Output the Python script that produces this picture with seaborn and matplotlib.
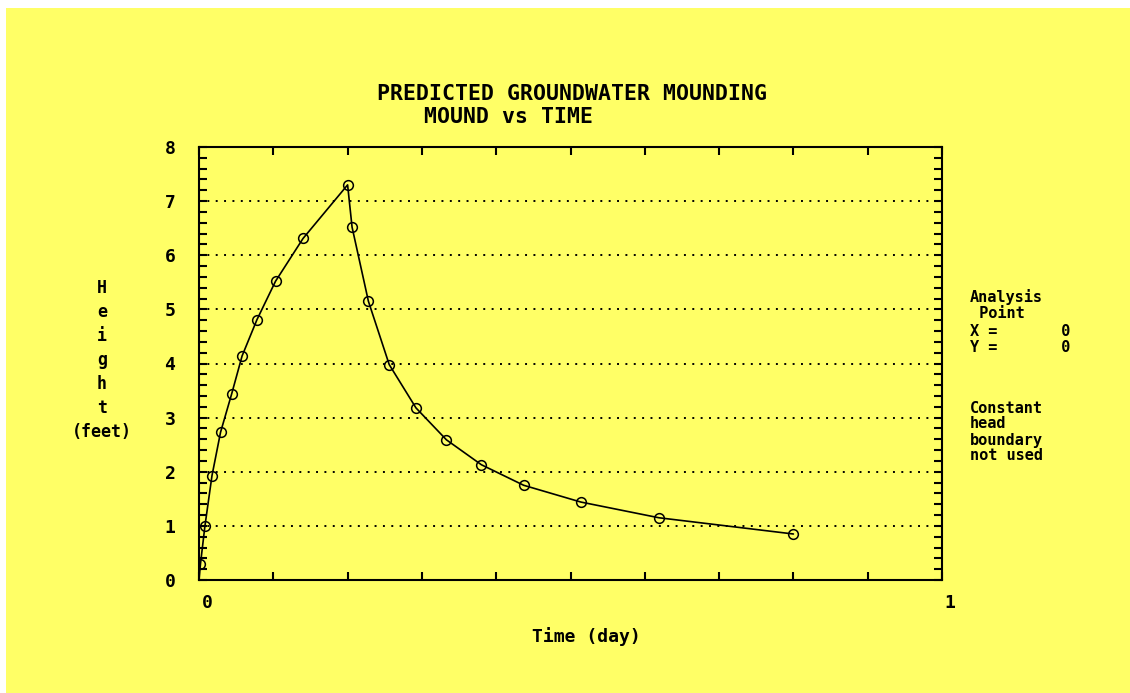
import numpy as np
import pandas as pd
import matplotlib
matplotlib.use("Agg")
import matplotlib.pyplot as plt
import seaborn as sns
from matplotlib.ticker import MultipleLocator
from matplotlib.transforms import ScaledTranslation
from matplotlib.patches import Rectangle

# ---- data ----
time_day = [0.0, 0.002, 0.008, 0.0175, 0.029, 0.044, 0.058, 0.078, 0.103, 0.140,
            0.200, 0.206, 0.228, 0.256, 0.292, 0.333, 0.380, 0.437, 0.514, 0.619, 0.800]
height_ft = [0.0, 0.30, 1.00, 1.93, 2.73, 3.44, 4.14, 4.81, 5.52, 6.31,
             7.30, 6.52, 5.15, 3.98, 3.18, 2.59, 2.13, 1.75, 1.44, 1.15, 0.85]
x_tick_values = [0, 1]
x_tick_labels = ["0", "1"]
y_tick_values = [0, 1, 2, 3, 4, 5, 6, 7, 8]
y_tick_labels = ["0", "1", "2", "3", "4", "5", "6", "7", "8"]
title_line1 = "PREDICTED GROUNDWATER MOUNDING"
title_line2 = "MOUND vs TIME"
x_label = "Time (day)"
y_label = "H\ne\ni\ng\nh\nt\n(feet)"
info_lines = ["Analysis", " Point", "X =       0", "Y =       0",
              "Constant", "head", "boundary", "not used"]

YELLOW = "#FFFF66"
W, H = 1130, 693

sns.set_theme(style="white")
plt.rcParams['font.family'] = ['DejaVu Sans Mono']
plt.rcParams['font.weight'] = 'bold'

fig = plt.figure(figsize=(W / 100, H / 100), dpi=100, facecolor="white")
fig.add_artist(Rectangle((6 / W, 0), 1 - 6 / W, 1 - 8 / H, transform=fig.transFigure,
                         facecolor=YELLOW, edgecolor="none", zorder=-5))

ax = fig.add_axes([199 / W, 1 - 580 / H, (942 - 199) / W, (580 - 147) / H])
ax.set_facecolor(YELLOW)

df = pd.DataFrame({"time": time_day, "height": height_ft})
sns.lineplot(data=df, x="time", y="height", ax=ax, color="black", linewidth=1.2,
             marker="o", markersize=7, markerfacecolor="none",
             markeredgecolor="black", markeredgewidth=1.1,
             markevery=list(range(1, len(time_day))),
             sort=False, estimator=None, zorder=3)

ax.set_xlim(0, 1)
ax.set_ylim(0, 8)

for s in ax.spines.values():
    s.set_visible(True)
    s.set_color("black")
    s.set_linewidth(1.5)

ax.set_xticks(x_tick_values, x_tick_labels)
ax.xaxis.set_minor_locator(MultipleLocator(0.1))
ax.set_yticks(y_tick_values, y_tick_labels)
ax.yaxis.set_minor_locator(MultipleLocator(0.2))
ax.tick_params(which="both", direction="in", length=6, width=1.5, color="black",
               top=True, right=True, bottom=True, left=True)
ax.tick_params(axis="x", which="major", pad=10, labelsize=13, labelcolor="black")
ax.tick_params(axis="y", which="major", pad=17, labelsize=13, labelcolor="black")

offset = ScaledTranslation(8 / 100, 0, fig.dpi_scale_trans)
for lbl in ax.get_xticklabels():
    lbl.set_transform(lbl.get_transform() + offset)

ax.grid(True, axis="y", which="major", color="black", linestyle=(0, (1, 3.3)), linewidth=1.4)
ax.grid(False, axis="x")
ax.set_axisbelow(True)

ax.set_xlabel(x_label, fontsize=13, fontweight="bold", color="black")
ax.xaxis.set_label_coords((586 - 199) / 743, (580 - 637) / 433)
ax.xaxis.label.set_va("center")

ax.set_ylabel(y_label, fontsize=12, fontweight="bold", color="black", rotation=0,
              linespacing=1.43, ha="center", va="center", multialignment="center")
ax.yaxis.set_label_coords((102 - 199) / 743, (580 - 360) / 433)

fig.text(572 / W, 1 - 94 / H, title_line1, ha="center", va="center", fontsize=15.5,
         fontweight="bold", color="black")
fig.text(509 / W, 1 - 117 / H, title_line2, ha="center", va="center", fontsize=15.5,
         fontweight="bold", color="black")

info_y = [297, 313, 332, 348, 408, 424, 440, 456]
for txt, yy in zip(info_lines, info_y):
    fig.text(970 / W, 1 - yy / H, txt, ha="left", va="center", fontsize=11,
             fontweight="bold", color="black")

fig.savefig("out.png", dpi=100, facecolor="white")
